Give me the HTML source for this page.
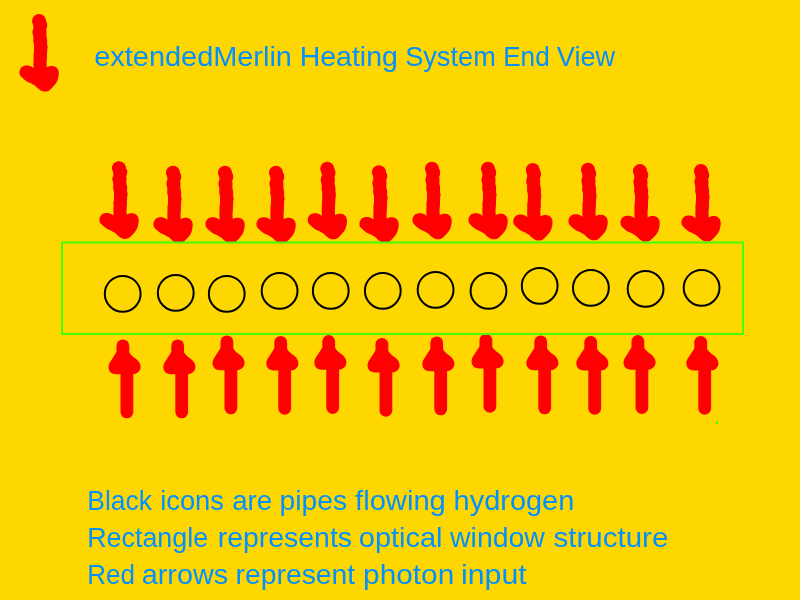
<!DOCTYPE html>
<html><head><meta charset="utf-8"><style>
html,body{margin:0;padding:0;background:#FFD700;width:800px;height:600px;overflow:hidden}
svg{display:block}
text{font-family:"Liberation Sans",sans-serif;font-size:28.0px;fill:#0090FF}
</style></head><body>
<svg width="800" height="600" viewBox="0 0 800 600">
<rect width="800" height="600" fill="#FFD700"/>
<defs><g id="da" fill="#FF0000">
<circle cx="39" cy="21" r="7"/>
<circle cx="40.3" cy="25" r="7"/>
<circle cx="39.5" cy="32" r="7.1"/>
<circle cx="40.3" cy="41" r="7"/>
<circle cx="40.8" cy="47" r="6.7"/>
<circle cx="40.3" cy="56" r="6.7"/>
<polyline fill="none" stroke="#FF0000" stroke-width="12.8" stroke-linejoin="round" points="39,21 40.3,25 39.5,32"/>
<polyline fill="none" stroke="#FF0000" stroke-width="13.2" stroke-linejoin="round" points="39.5,32 40.3,41 40.8,47 40.3,56 40,63 40.3,72"/>
<path d="M33.4,68 C31,66 28.5,65.5 25.7,65.6 C22,65.8 19.5,69 19.5,72.6 C19.5,74.8 20.3,76.3 21.8,77.3 C23.5,79 25.5,80.8 27.8,82 C30.5,83.2 32.5,84 34.4,85.3 C36,86.3 37.5,88 39,89.3 C40.8,90.8 43,91.6 45,91.6 C47,91.6 48.5,91 49.8,90 C51.8,88.2 53.5,86.5 55,84.6 C56.5,82.8 57.5,81 57.8,79.3 C58.5,77 58.8,75 58.8,73.3 C58.8,69 56,66 52.3,66 C50,66 48.2,66.5 47,67.3 Z"/>
</g><g id="ua" fill="#FF0000">
<line stroke="#FF0000" stroke-linecap="round" stroke-width="12.8" x1="126.9" y1="370" x2="126.9" y2="411.9"/>
<line stroke="#FF0000" stroke-linecap="round" stroke-width="12.8" x1="122.9" y1="345.9" x2="122.9" y2="356"/>
<path d="M116.5,352 L110,362.2 C107.5,366 108.3,371.5 112,373.2 C113.5,374 115,374.2 118,374.2 L130,374.2 L134.8,373.9 C138,373 140.5,370.5 140.6,367 C140.7,363.5 138.5,360.5 135.5,358.5 C133,356.8 130.8,355 129.3,352.5 Z"/>
</g></defs>
<use href="#da"/>
<use href="#da" transform="translate(79.95,147.3)"/>
<use href="#da" transform="translate(133.95,151.7)"/>
<use href="#da" transform="translate(185.95,151.7)"/>
<use href="#da" transform="translate(236.95,151.7)"/>
<use href="#da" transform="translate(288.25,147.7)"/>
<use href="#da" transform="translate(339.95,151.3)"/>
<use href="#da" transform="translate(392.95,147.7)"/>
<use href="#da" transform="translate(448.95,147.7)"/>
<use href="#da" transform="translate(493.75,149.0)"/>
<use href="#da" transform="translate(548.95,148.7)"/>
<use href="#da" transform="translate(600.95,150.1)"/>
<use href="#da" transform="translate(661.95,149.9)"/>
<use href="#ua" transform="translate(0,0)"/>
<use href="#ua" transform="translate(54.8,0)"/>
<use href="#ua" transform="translate(104,-4)"/>
<use href="#ua" transform="translate(157.8,-3.6)"/>
<use href="#ua" transform="translate(205.8,-4.4)"/>
<use href="#ua" transform="translate(259,-1.6)"/>
<use href="#ua" transform="translate(313.8,-3)"/>
<use href="#ua" transform="translate(363,-5.6)"/>
<use href="#ua" transform="translate(417.8,-4)"/>
<use href="#ua" transform="translate(467.8,-3.6)"/>
<use href="#ua" transform="translate(515,-4.4)"/>
<use href="#ua" transform="translate(577.8,-3.6)"/>
<rect x="62" y="242.5" width="681" height="91.5" fill="none" stroke="#44FF00" stroke-width="2"/>
<circle cx="122.7" cy="293.8" r="17.9" fill="none" stroke="#000" stroke-width="2"/>
<circle cx="175.75" cy="292.9" r="17.9" fill="none" stroke="#000" stroke-width="2"/>
<circle cx="226.75" cy="293.8" r="17.9" fill="none" stroke="#000" stroke-width="2"/>
<circle cx="279.6" cy="290.9" r="17.9" fill="none" stroke="#000" stroke-width="2"/>
<circle cx="330.75" cy="290.8" r="17.9" fill="none" stroke="#000" stroke-width="2"/>
<circle cx="382.8" cy="290.8" r="17.9" fill="none" stroke="#000" stroke-width="2"/>
<circle cx="435.6" cy="289.8" r="17.9" fill="none" stroke="#000" stroke-width="2"/>
<circle cx="488.5" cy="290.9" r="17.9" fill="none" stroke="#000" stroke-width="2"/>
<circle cx="539.7" cy="285.8" r="17.9" fill="none" stroke="#000" stroke-width="2"/>
<circle cx="590.9" cy="287.9" r="17.9" fill="none" stroke="#000" stroke-width="2"/>
<circle cx="645.6" cy="288.9" r="17.9" fill="none" stroke="#000" stroke-width="2"/>
<circle cx="701.6" cy="287.8" r="17.9" fill="none" stroke="#000" stroke-width="2"/>
<rect x="716" y="421" width="2" height="3" fill="#44FF00"/>
<g style="will-change:transform"><text x="94.29" y="65.8" textLength="197.61" lengthAdjust="spacingAndGlyphs">extendedMerlin</text><text x="299.66" y="65.8" textLength="98.15" lengthAdjust="spacingAndGlyphs">Heating</text><text x="405.15" y="65.8" textLength="90.65" lengthAdjust="spacingAndGlyphs">System</text><text x="503.16" y="65.8" textLength="46.53" lengthAdjust="spacingAndGlyphs">End</text><text x="556.86" y="65.8" textLength="58.29" lengthAdjust="spacingAndGlyphs">View</text><text x="87.23" y="509.6" textLength="64.75" lengthAdjust="spacingAndGlyphs">Black</text><text x="160.17" y="509.6" textLength="63.83" lengthAdjust="spacingAndGlyphs">icons</text><text x="232.24" y="509.6" textLength="39.99" lengthAdjust="spacingAndGlyphs">are</text><text x="279.60" y="509.6" textLength="67.41" lengthAdjust="spacingAndGlyphs">pipes</text><text x="355.09" y="509.6" textLength="90.77" lengthAdjust="spacingAndGlyphs">flowing</text><text x="453.60" y="509.6" textLength="120.68" lengthAdjust="spacingAndGlyphs">hydrogen</text><text x="87.20" y="546.9" textLength="120.98" lengthAdjust="spacingAndGlyphs">Rectangle</text><text x="217.72" y="546.9" textLength="134.29" lengthAdjust="spacingAndGlyphs">represents</text><text x="358.78" y="546.9" textLength="83.78" lengthAdjust="spacingAndGlyphs">optical</text><text x="450.03" y="546.9" textLength="94.91" lengthAdjust="spacingAndGlyphs">window</text><text x="553.57" y="546.9" textLength="114.73" lengthAdjust="spacingAndGlyphs">structure</text><text x="87.26" y="583.8" textLength="47.82" lengthAdjust="spacingAndGlyphs">Red</text><text x="141.79" y="583.8" textLength="86.23" lengthAdjust="spacingAndGlyphs">arrows</text><text x="235.53" y="583.8" textLength="119.66" lengthAdjust="spacingAndGlyphs">represent</text><text x="363.09" y="583.8" textLength="91.16" lengthAdjust="spacingAndGlyphs">photon</text><text x="460.97" y="583.8" textLength="65.73" lengthAdjust="spacingAndGlyphs">input</text></g>
</svg>
</body></html>
